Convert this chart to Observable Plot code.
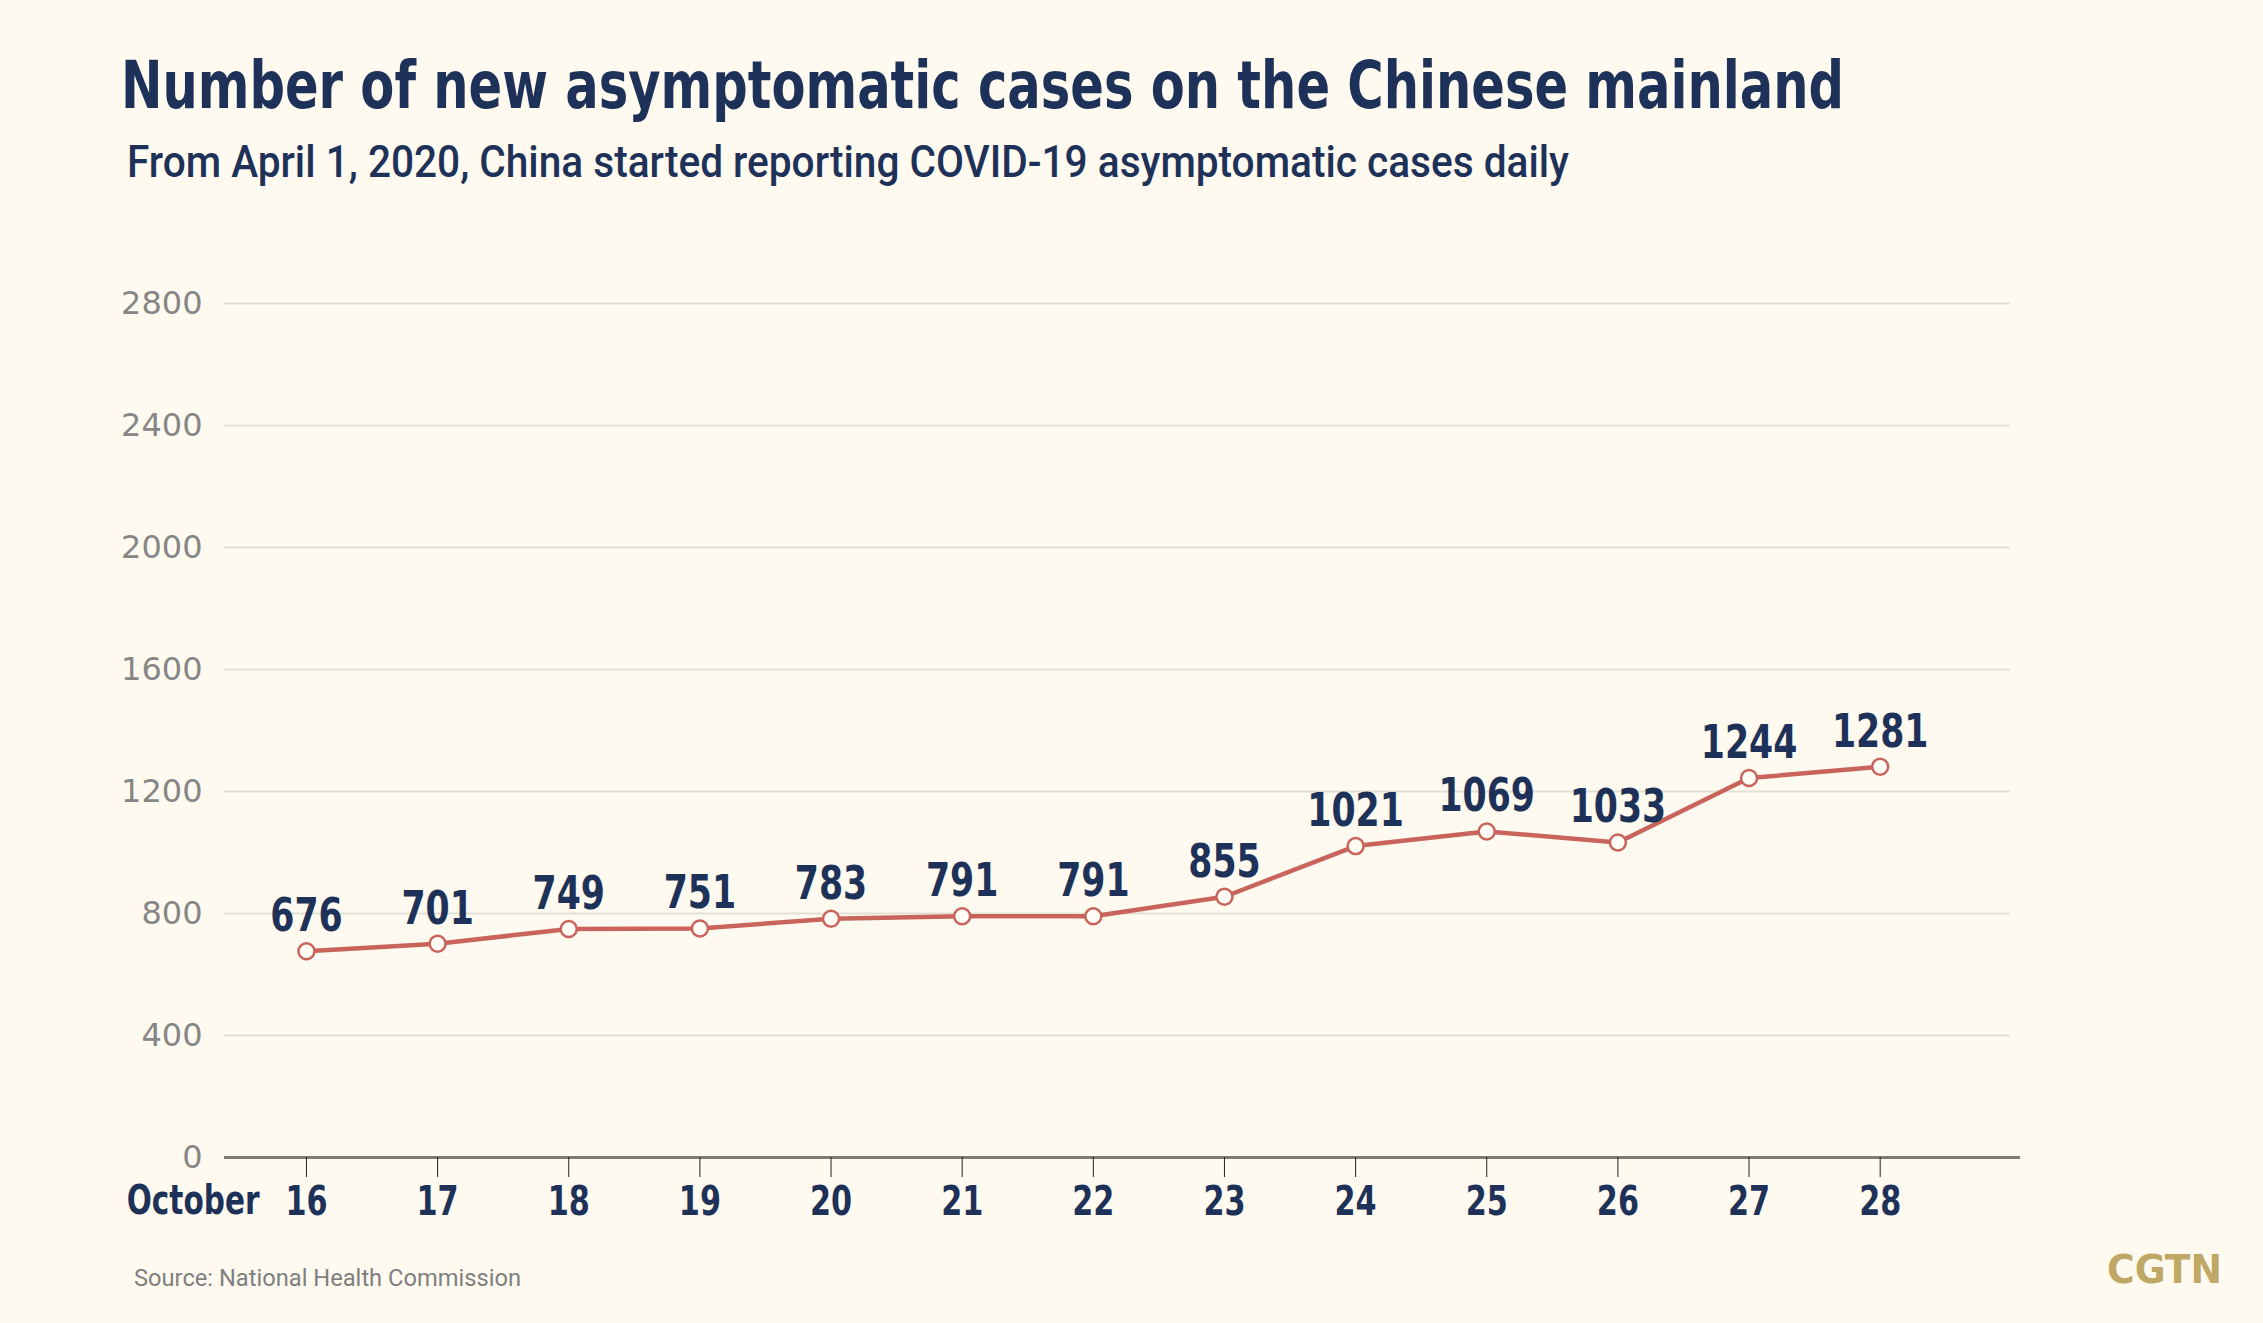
<!DOCTYPE html>
<html><head><meta charset="utf-8">
<script src="https://cdn.jsdelivr.net/npm/d3@7"></script>
<script src="https://cdn.jsdelivr.net/npm/@observablehq/plot@0.6"></script>
<style>
html,body{margin:0;padding:0;background:#fefaf0;}
#page{position:relative;width:2263px;height:1323px;overflow:hidden;background:#fefaf0;}
.t{position:absolute;white-space:nowrap;transform-origin:0 0;line-height:1;}
#title{left:121px;top:53px;font-weight:bold;font-size:66px;color:#1e3259;font-family:"DejaVu Sans Condensed","Liberation Sans Narrow","Liberation Sans",sans-serif;}
#subtitle{left:127px;top:140px;font-size:44px;font-weight:500;color:#1e3259;font-family:Roboto,"DejaVu Sans Condensed",sans-serif;}
#source{left:134px;top:1267px;font-size:23px;color:#7f7f7f;font-family:Roboto,"DejaVu Sans Condensed",sans-serif;}
#logo{left:2107px;top:1250px;font-size:39px;font-weight:bold;color:#bfa865;font-family:"DejaVu Sans Condensed","Liberation Sans",sans-serif;}
#chart{position:absolute;left:0;top:250px;}
</style>
</head><body>
<div id="page">
  <div class="t" id="title">Number of new asymptomatic cases on the Chinese mainland</div>
  <div class="t" id="subtitle">From April 1, 2020, China started reporting COVID-19 asymptomatic cases daily</div>
  <div id="chart"></div>
  <div class="t" id="source">Source: National Health Commission</div>
  <div class="t" id="logo">CGTN</div>
</div>
<script>
const monthLabel = "October";
const days = [16, 17, 18, 19, 20, 21, 22, 23, 24, 25, 26, 27, 28];
const cases = [676, 701, 749, 751, 783, 791, 791, 855, 1021, 1069, 1033, 1244, 1281];
const yTicks = [0, 400, 800, 1200, 1600, 2000, 2400, 2800];

const data = days.map((d, i) => ({day: d, cases: cases[i]}));

const navy = "#1e3259";
const red = "#c9645c";
const narrow = "'DejaVu Sans Condensed','Liberation Sans',sans-serif";

const chart = Plot.plot({
  width: 2263,
  height: 990,
  marginLeft: 224,
  marginRight: 243,
  marginTop: 53,
  marginBottom: 83,
  style: {background: "transparent", overflow: "visible"},
  x: {type: "linear", domain: [15.375, 29.07]},
  y: {domain: [0, 2800]},
  marks: [
    Plot.gridY(yTicks, {stroke: "#e2dfd3", strokeOpacity: 1, strokeWidth: 2, insetRight: 10}),
    Plot.ruleY([0], {stroke: "#7f7b70", strokeWidth: 3}),
    Plot.axisY(yTicks, {tickSize: 0, tickPadding: 22, fontSize: 32, fill: "#868686", fontFamily: "DejaVu Sans", label: null, tickFormat: d => String(d)}),
    Plot.axisX(days, {tickSize: 20, tickPadding: 8, stroke: "#222", strokeWidth: 1, fontSize: 41, fontWeight: "bold", fill: navy, fontFamily: narrow, label: null, tickFormat: d => String(d)}),
    Plot.text([monthLabel], {x: [days[0]], frameAnchor: "bottom", textAnchor: "end", lineAnchor: "top", dx: -47, dy: 28, fontSize: 40, fontWeight: "bold", fill: navy, fontFamily: narrow}),
    Plot.line(data, {x: "day", y: "cases", stroke: red, strokeWidth: 4.5}),
    Plot.dot(data, {x: "day", y: "cases", r: 8, fill: "#fffdf6", stroke: red, strokeWidth: 2.5}),
    Plot.text(data, {x: "day", y: "cases", text: d => String(d.cases), lineAnchor: "bottom", dy: -20, fontSize: 47, fontWeight: "bold", fill: navy, fontFamily: narrow})
  ]
});
document.getElementById("chart").appendChild(chart);

// condense the bold navy labels to mimic the narrow original typeface
d3.select(chart).selectAll("text").each(function () {
  const fw = getComputedStyle(this).fontWeight;
  if (fw === "700" || fw === "bold") {
    const len = this.getComputedTextLength();
    this.setAttribute("textLength", (len * 0.82).toFixed(1));
    this.setAttribute("lengthAdjust", "spacingAndGlyphs");
  }
});

function fit(id, w) {
  const el = document.getElementById(id);
  const r = el.getBoundingClientRect().width;
  el.style.transform = `scaleX(${w / r})`;
}
fit("title", 1723);
fit("subtitle", 1442);
fit("source", 387);
fit("logo", 115);
</script>
</body></html>
